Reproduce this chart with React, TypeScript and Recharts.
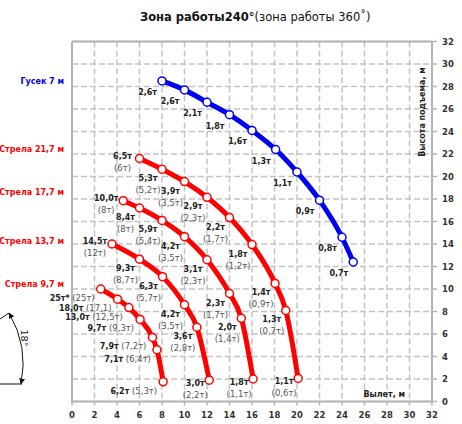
import React from "react";
import { ComposedChart, Line, XAxis, YAxis, CartesianGrid, LabelList, ReferenceLine } from "recharts";

// оси
const reachTicks = [0, 2, 4, 6, 8, 10, 12, 14, 16, 18, 20, 22, 24, 26, 28, 30, 32];
const heightTicks = [0, 2, 4, 6, 8, 10, 12, 14, 16, 18, 20, 22, 24, 26, 28, 30, 32];

// Гусек 7 м
const jibReach = [8, 10, 12, 14, 16, 18.1, 20, 22, 24, 25];
const jibHeight = [28.5, 27.7, 26.6, 25.5, 24.1, 22.4, 20.4, 17.9, 14.6, 12.4];
const jibLoad = ["2,6т", "2,6т", "2,1т", "1,8т", "1,6т", "1,3т", "1,1т", "0,9т", "0,8т", "0,7т"];

// Стрела 21,7 м
const boom21Reach = [6, 8, 10, 12, 14, 16, 18.05, 19, 20.1];
const boom21Height = [21.6, 20.65, 19.55, 18.15, 16.35, 13.95, 10.5, 8.1, 2.05];
const boom21Load = ["6,5т", "5,3т", "3,9т", "2,9т", "2,2т", "1,8т", "1,4т", "1,3т", "1,1т"];
const boom21Alt = ["(6т)", "(5,2т)", "(3,5т)", "(2,3т)", "(1,7т)", "(1,2т)", "(0,9т)", "(0,7т)", "(0,6т)"];

// Стрела 17,7 м
const boom17Reach = [4.55, 6, 8, 10, 12, 14, 15.05, 16.1];
const boom17Height = [17.85, 17.2, 16.1, 14.65, 12.6, 9.6, 7.4, 2.0];
const boom17Load = ["10,0т", "8,4т", "5,9т", "4,2т", "3,1т", "2,3т", "2,0т", "1,8т"];
const boom17Alt = ["(8т)", "(8т)", "(5,4т)", "(3,5т)", "(2,3т)", "(1,7т)", "(1,4т)", "(1,1т)"];

// Стрела 13,7 м
const boom13Reach = [3.55, 6, 8.05, 10, 11.1, 12.2];
const boom13Height = [14.0, 12.65, 11.1, 8.6, 6.6, 1.9];
const boom13Load = ["14,5т", "9,3т", "6,3т", "4,2т", "3,6т", "3,0т"];
const boom13Alt = ["(12т)", "(8,7т)", "(5,7т)", "(3,5т)", "(2,8т)", "(2,2т)"];

// Стрела 9,7 м
const boom9Reach = [2.55, 4.05, 5.05, 6.05, 7.15, 7.55, 8.1];
const boom9Height = [10.0, 9.1, 8.35, 7.3, 5.7, 4.6, 1.75];
const boom9Load = ["25т*", "18,0т", "13,0т", "9,7т", "7,9т", "7,1т", "6,2т"];
const boom9Alt = ["(25т)", "(17,1)", "(12,5т)", "(9,3т)", "(7,2т)", "(6,4т)", "(5,3т)"];

const toRows = (xs: number[], ys: number[]) => xs.map((x, i) => ({ x, y: ys[i] }));

const jibData = toRows(jibReach, jibHeight);
const boom21Data = toRows(boom21Reach, boom21Height);
const boom17Data = toRows(boom17Reach, boom17Height);
const boom13Data = toRows(boom13Reach, boom13Height);
const boom9Data = toRows(boom9Reach, boom9Height);

const FONT = "'DejaVu Sans', Verdana, sans-serif";
const RED = "#ff0000";
const BLUE = "#0000f0";
const GRID = "#c4c4c4";
const AXIS = "#b4b4b4";

const jibLabel = (props: any) => {
  const { x, y, index } = props;
  return (
    <text x={x - 5} y={y + 14} textAnchor="end" fontSize={8} fontWeight="bold" fill="#222" fontFamily={FONT}>
      {jibLoad[index]}
    </text>
  );
};

const boomLabel = (loads: string[], alts: string[]) => (props: any) => {
  const { x, y, index } = props;
  const first = index === 0;
  const last = index === loads.length - 1;
  const cx = x + (first ? -17 : -14);
  const top = y + (first ? -3 : last ? 3 : 9);
  return (
    <g fontFamily={FONT}>
      <text x={cx} y={top + 3} textAnchor="middle" fontSize={8} fontWeight="bold" fill="#222">
        {loads[index]}
      </text>
      <text x={cx} y={top + 15} textAnchor="middle" fontSize={8.5} fill="#555">
        {alts[index]}
      </text>
    </g>
  );
};

const boom9Label = (props: any) => {
  const { x, y, index } = props;
  return (
    <text x={x - 6} y={y + 12} textAnchor="end" fontFamily={FONT}>
      <tspan fontSize={8} fontWeight="bold" fill="#222">{boom9Load[index]}</tspan>
      <tspan fontSize={8.5} fill="#555">{" " + boom9Alt[index]}</tspan>
    </text>
  );
};

const dot = (color: string) => ({ r: 4, fill: "#fff", stroke: color, strokeWidth: 1.5 });

const boomLabels = [
  { name: "Стрела 21,7 м", y: 152 },
  { name: "Стрела 17,7 м", y: 195 },
  { name: "Стрела 13,7 м", y: 244 },
  { name: "Стрела 9,7 м", y: 287 },
];

export default function App() {
  return (
    <div style={{ position: "absolute", left: 0, top: 0, width: 462, height: 424, background: "#fff" }}>
      <ComposedChart
        width={462}
        height={424}
        margin={{ top: 41.5, right: 0, bottom: 0, left: 72 }}
      >
        <CartesianGrid stroke={GRID} strokeWidth={1.5} strokeDasharray="6 3" />
        <XAxis
          type="number"
          dataKey="x"
          domain={[0, 32]}
          ticks={reachTicks}
          interval={0}
          height={22.5}
          allowDataOverflow
          axisLine={{ stroke: AXIS, strokeWidth: 2 }}
          tickLine={{ stroke: AXIS, strokeWidth: 1.5 }}
          tickSize={4}
          tickMargin={6}
          tick={{ fontSize: 8.5, fontWeight: "bold", fill: "#333", fontFamily: FONT }}
        />
        <YAxis
          type="number"
          dataKey="y"
          orientation="right"
          domain={[0, 32]}
          ticks={heightTicks}
          interval={0}
          width={30}
          allowDataOverflow
          axisLine={{ stroke: AXIS, strokeWidth: 2 }}
          tickLine={{ stroke: AXIS, strokeWidth: 1.5 }}
          tickSize={5}
          tickMargin={5}
          tick={{ fontSize: 8.5, fontWeight: "bold", fill: "#333", fontFamily: FONT, textAnchor: "start" }}
        />
        <ReferenceLine y={32} stroke={AXIS} strokeWidth={2} />
        <ReferenceLine x={0} stroke={AXIS} strokeWidth={2} />

        <Line data={jibData} dataKey="y" type="monotone" stroke={BLUE} strokeWidth={5} dot={dot(BLUE)} activeDot={false} isAnimationActive={false}>
          <LabelList dataKey="y" content={jibLabel} />
        </Line>
        <Line data={boom21Data} dataKey="y" type="monotone" stroke={RED} strokeWidth={5} dot={dot(RED)} activeDot={false} isAnimationActive={false}>
          <LabelList dataKey="y" content={boomLabel(boom21Load, boom21Alt)} />
        </Line>
        <Line data={boom17Data} dataKey="y" type="monotone" stroke={RED} strokeWidth={5} dot={dot(RED)} activeDot={false} isAnimationActive={false}>
          <LabelList dataKey="y" content={boomLabel(boom17Load, boom17Alt)} />
        </Line>
        <Line data={boom13Data} dataKey="y" type="monotone" stroke={RED} strokeWidth={5} dot={dot(RED)} activeDot={false} isAnimationActive={false}>
          <LabelList dataKey="y" content={boomLabel(boom13Load, boom13Alt)} />
        </Line>
        <Line data={boom9Data} dataKey="y" type="monotone" stroke={RED} strokeWidth={5} dot={dot(RED)} activeDot={false} isAnimationActive={false}>
          <LabelList dataKey="y" content={boom9Label} />
        </Line>
      </ComposedChart>

      <svg width={462} height={424} style={{ position: "absolute", left: 0, top: 0, pointerEvents: "none" }} fontFamily={FONT}>
        <text x={140} y={21} fontSize={11.5} fill="#111">
          <tspan fontWeight="bold">Зона работы240°</tspan>
          <tspan>(зона работы 360˚)</tspan>
        </text>

        <text x={64} y={84} textAnchor="end" fontSize={8} fontWeight="bold" fill={BLUE}>Гусек 7 м</text>
        {boomLabels.map((b) => (
          <text key={b.name} x={64} y={b.y} textAnchor="end" fontSize={8} fontWeight="bold" fill={RED}>{b.name}</text>
        ))}

        <text x={405} y={397} textAnchor="end" fontSize={8} fontWeight="bold" fill="#222">Вылет, м</text>
        <text x={0} y={0} transform="translate(425,112) rotate(-90)" textAnchor="middle" fontSize={8} fontWeight="bold" fill="#222">
          Высота подъема, м
        </text>

        {/* угол наклона гуська */}
        <defs>
          <marker id="arr" viewBox="0 0 10 10" refX="9" refY="5" markerWidth="6" markerHeight="6" orient="auto-start-reverse">
            <path d="M0,0 L10,5 L0,10 z" fill="#111" />
          </marker>
        </defs>
        <line x1={0} y1={319} x2={9} y2={313} stroke="#111" strokeWidth={1} />
        <line x1={0} y1={384} x2={22} y2={384} stroke="#111" strokeWidth={1} />
        <path d="M 9 313 A 100 100 0 0 1 21 384" fill="none" stroke="#111" strokeWidth={1} markerStart="url(#arr)" markerEnd="url(#arr)" />
        <text x={0} y={0} transform="translate(21,338) rotate(90)" textAnchor="middle" fontSize={9.5} fill="#111">18°</text>
      </svg>
    </div>
  );
}
